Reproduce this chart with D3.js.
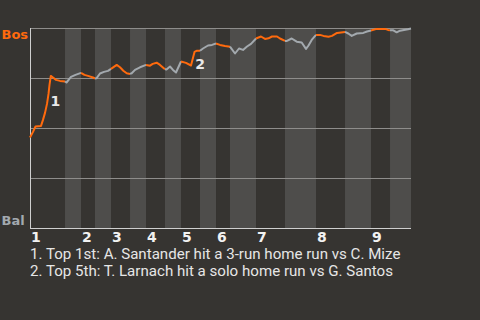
<!DOCTYPE html>
<html><head><meta charset="utf-8">
<script src="https://cdn.jsdelivr.net/npm/d3@7"></script>
<style>html,body{margin:0;padding:0;background:#363431;} svg{display:block}</style>
</head><body>
<script>
// ---- data ----
const teams = ["Bos", "Bal"];               // top = Bos 100%, bottom = Bal 100%
const innings = ["1","2","3","4","5","6","7","8","9"];
// half-inning boundaries in game progress (0-100)
const halfBounds = [0, 9.19, 13.39, 17.06, 21.26, 26.25, 30.45, 35.43, 39.63, 44.62,
  48.82, 52.49, 59.32, 66.93, 75.07, 82.68, 89.5, 94.49, 100];
const progress = [
  0, 0.79, 1.44, 2.89, 3.41, 3.94, 4.46, 4.86, 5.12, 5.46, 6.04, 6.82, 7.87, 9.19,
  9.58, 10.76, 11.94, 13.39,
  14.3, 15.22, 16.54, 17.06,
  17.45, 18.37, 19.42, 20.47, 21.26,
  22.76, 23.62, 24.49, 25.38, 26.25,
  26.69, 27.56, 28.87, 30.45,
  31.5, 32.2, 33.25, 34.12, 35.43,
  35.83, 36.75, 37.53, 38.32, 39.63,
  40.94, 42.26, 43.18, 43.83, 44.62,
  45.41, 46.72, 47.77, 48.82,
  49.87, 51.18, 52.49,
  53.81, 54.86, 55.91, 56.96, 58.01, 59.32,
  60.63, 61.68, 62.6, 63.52, 64.83, 65.62, 66.93,
  67.45, 68.69, 70, 71.31, 72.44, 73.1, 73.94, 75.07,
  76.12, 77.03, 78.35, 79.27, 80.58, 82.68,
  83.54, 84.44, 85.75, 87.48, 88.45, 89.5,
  91, 93.18, 93.96, 94.49,
  95.35, 96.25, 97.11, 98.16, 99.21, 100];
const winProbBos = [
  45.5, 48.3, 51, 51.3, 54.3, 57.8, 62.3, 67.3, 71.8, 76.3, 75.5, 74.3, 73.8, 73.5,
  73, 75.8, 76.8, 77.8,
  76.8, 76.3, 75.5, 75,
  75.1, 77.5, 78.3, 78.8, 79.8,
  81.8, 80.6, 78.9, 77.6, 77.3,
  77.6, 79.3, 80.6, 81.8,
  81.4, 82.3, 82.9, 81.8, 79.6,
  79.5, 81, 79.3, 78, 83.5,
  82.8, 81.5, 88.3, 88.9, 88.9,
  90, 91.5, 91.8, 92.5,
  91.8, 91.3, 90.9,
  87.5, 90, 89.3, 91, 92.3, 95,
  96, 94.8, 95.1, 96, 96, 95, 93.8,
  93.8, 95, 93.4, 93, 89.8, 91.5, 94.3, 96.8,
  96.8, 96.3, 95.9, 96.3, 97.8, 98.3,
  97.5, 96.3, 97.5, 97.8, 98.5, 99,
  99.8, 99.8, 99.3, 99.1,
  99.1, 98.1, 98.9, 99.3, 99.6, 100];
const markerLabels = ["1", "2"];
const markerProgress = [5.4, 43.4];
const markerWinProb = [61.3, 79.8];
const notes = [
  "1. Top 1st: A. Santander hit a 3-run home run vs C. Mize",
  "2. Top 5th: T. Larnach hit a solo home run vs G. Santos"
];
const gridValues = [0, 25, 50, 75, 100];

// ---- drawing ----
const W = 480, H = 320;
const svg = d3.select("body").append("svg").attr("width", W).attr("height", H);
svg.append("rect").attr("width", W).attr("height", H).attr("fill", "#363431");

const x = d3.scaleLinear().domain([0, 100]).range([30, 411]);
const y = d3.scaleLinear().domain([0, 100]).range([228.5, 28.5]);

const ORANGE = "#ff6a0d", GRAY = "#a3a9ae";

// shaded bottom half-innings
const halves = d3.range(halfBounds.length - 1).map(i => ({i, a: halfBounds[i], b: halfBounds[i + 1]}));
svg.append("g").selectAll("rect").data(halves.filter(d => d.i % 2 === 1)).join("rect")
  .attr("x", d => x(d.a)).attr("width", d => x(d.b) - x(d.a))
  .attr("y", y(100) - 0.5).attr("height", y(0) - y(100) + 0.5)
  .attr("fill", "#4e4d4b");

// grid lines
svg.append("g").selectAll("line").data(gridValues.filter(v => v > 0)).join("line")
  .attr("x1", x(0)).attr("x2", x(100))
  .attr("y1", d => y(d)).attr("y2", d => y(d))
  .attr("stroke", "#8e8d8b").attr("stroke-width", 1);

// axes
svg.append("line").attr("x1", x(0) + 0.5).attr("x2", x(0) + 0.5)
  .attr("y1", y(100) - 0.5).attr("y2", y(0) + 0.5)
  .attr("stroke", "#cfcfcf").attr("stroke-width", 1);
svg.append("line").attr("x1", x(0)).attr("x2", x(100))
  .attr("y1", y(0)).attr("y2", y(0))
  .attr("stroke", "#cfcfcf").attr("stroke-width", 1);

// line, split per half-inning
const pts = progress.map((p, k) => ({p, v: winProbBos[k],
  h: Math.max(0, d3.bisectLeft(halfBounds, p) - 1)}));
const line = d3.line().x(d => x(d.p)).y(d => y(d.v));
const segs = halves.map(hf => {
  const idx = pts.map((d, k) => d.h === hf.i ? k : -1).filter(k => k >= 0);
  if (!idx.length) return null;
  const start = Math.max(0, idx[0] - 1);
  return {i: hf.i, pts: pts.slice(start, idx[idx.length - 1] + 1)};
}).filter(Boolean);
svg.append("g").selectAll("path").data(segs).join("path")
  .attr("d", d => line(d.pts))
  .attr("fill", "none")
  .attr("stroke", d => d.i % 2 === 0 ? ORANGE : GRAY)
  .attr("stroke-width", 2)
  .attr("stroke-linejoin", "round");

// team labels
svg.append("text").attr("x", 1.5).attr("y", y(100) + 10.5).text(teams[0])
  .attr("font-family", "DejaVu Sans").attr("font-weight", "bold").attr("font-size", 13)
  .attr("fill", ORANGE);
svg.append("text").attr("x", 1.5).attr("y", y(0) - 3.5).text(teams[1])
  .attr("font-family", "DejaVu Sans").attr("font-weight", "bold").attr("font-size", 13)
  .attr("fill", GRAY);

// inning tick labels
svg.append("g").selectAll("text").data(innings).join("text")
  .attr("x", (d, i) => x(halfBounds[i * 2]) + 1)
  .attr("y", 242)
  .text(d => d)
  .attr("font-family", "DejaVu Sans").attr("font-weight", "bold").attr("font-size", 14)
  .attr("fill", "#f2f2f2");

// event markers
svg.append("g").selectAll("text").data(markerLabels).join("text")
  .attr("x", (d, i) => x(markerProgress[i]))
  .attr("y", (d, i) => y(markerWinProb[i]))
  .text(d => d)
  .attr("font-family", "DejaVu Sans").attr("font-weight", "bold").attr("font-size", 14)
  .attr("fill", "#e8e8e8");

// notes
svg.append("g").selectAll("text").data(notes).join("text")
  .attr("x", 30).attr("y", (d, i) => 258.5 + i * 17)
  .text(d => d)
  .attr("font-family", "Roboto").attr("font-size", 15.1)
  .attr("fill", "#e6e6e6");
</script>
</body></html>
